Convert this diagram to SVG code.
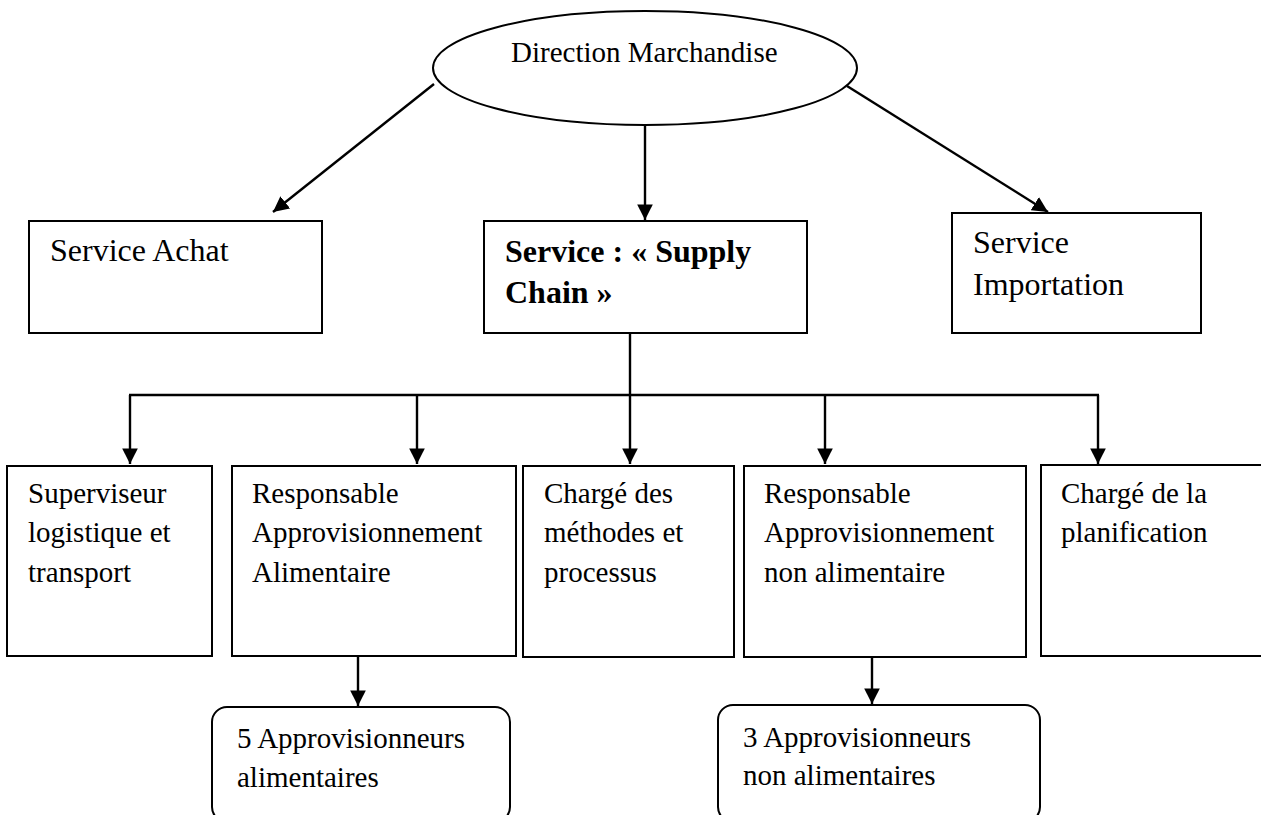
<svg xmlns="http://www.w3.org/2000/svg" width="1261" height="815" viewBox="0 0 1261 815">
  <style>
    .box { fill: #fff; stroke: #000; stroke-width: 2; }
    .lbl { font-family: "Liberation Serif", "Times New Roman", serif; font-size: 29px; fill: #000; }
    .big { font-size: 32px; }
    .bold { font-weight: bold; }
    .wire { fill: none; stroke: #000; stroke-width: 2.4; }
  </style>
  <defs>
    <marker id="head" viewBox="0 0 10 10" refX="10" refY="5" markerWidth="6.5" markerHeight="6.5" markerUnits="strokeWidth" orient="auto">
      <path d="M0,0 L10,5 L0,10 Z" fill="#000"/>
    </marker>
  </defs>
  <rect width="1261" height="815" fill="#fff"/>

  <!-- connectors -->
  <g id="connectors" class="wire">
    <line x1="434" y1="84" x2="273" y2="212" marker-end="url(#head)"/>
    <line x1="645" y1="125" x2="645" y2="220" marker-end="url(#head)"/>
    <line x1="847" y1="86" x2="1048" y2="212" marker-end="url(#head)"/>
    <line x1="630" y1="333" x2="630" y2="395"/>
    <line x1="129" y1="395" x2="1099" y2="395"/>
    <line x1="130" y1="395" x2="130" y2="464" marker-end="url(#head)"/>
    <line x1="417" y1="395" x2="417" y2="464" marker-end="url(#head)"/>
    <line x1="630" y1="395" x2="630" y2="464" marker-end="url(#head)"/>
    <line x1="825" y1="395" x2="825" y2="464" marker-end="url(#head)"/>
    <line x1="1098" y1="395" x2="1098" y2="464" marker-end="url(#head)"/>
    <line x1="358" y1="656" x2="358" y2="706" marker-end="url(#head)"/>
    <line x1="872" y1="657" x2="872" y2="704" marker-end="url(#head)"/>
  </g>

  <!-- top node -->
  <g id="direction">
    <ellipse class="box" cx="645" cy="68" rx="212" ry="57"/>
    <text class="lbl" x="511" y="62">Direction Marchandise</text>
  </g>

  <!-- second level -->
  <g id="service-achat">
    <rect class="box" x="29" y="221" width="293" height="112"/>
    <text class="lbl big" x="50" y="261">Service Achat</text>
  </g>
  <g id="supply-chain">
    <rect class="box" x="484" y="221" width="323" height="112"/>
    <text class="lbl big bold" x="505" y="262">Service : « Supply</text>
    <text class="lbl big bold" x="505" y="303">Chain »</text>
  </g>
  <g id="service-importation">
    <rect class="box" x="952" y="213" width="249" height="120"/>
    <text class="lbl big" x="973" y="253">Service</text>
    <text class="lbl big" x="973" y="295">Importation</text>
  </g>

  <!-- third level -->
  <g id="superviseur">
    <rect class="box" x="7" y="466" width="205" height="190"/>
    <text class="lbl" x="28" y="503">Superviseur</text>
    <text class="lbl" x="28" y="542">logistique et</text>
    <text class="lbl" x="28" y="582">transport</text>
  </g>
  <g id="resp-alimentaire">
    <rect class="box" x="232" y="466" width="284" height="190"/>
    <text class="lbl" x="252" y="503">Responsable</text>
    <text class="lbl" x="252" y="542">Approvisionnement</text>
    <text class="lbl" x="252" y="582">Alimentaire</text>
  </g>
  <g id="charge-methodes">
    <rect class="box" x="523" y="466" width="211" height="191"/>
    <text class="lbl" x="544" y="503">Chargé des</text>
    <text class="lbl" x="544" y="542">méthodes et</text>
    <text class="lbl" x="544" y="582">processus</text>
  </g>
  <g id="resp-non-alimentaire">
    <rect class="box" x="744" y="466" width="282" height="191"/>
    <text class="lbl" x="764" y="503">Responsable</text>
    <text class="lbl" x="764" y="542">Approvisionnement</text>
    <text class="lbl" x="764" y="582">non alimentaire</text>
  </g>
  <g id="charge-planification">
    <rect class="box" x="1041" y="465" width="230" height="191"/>
    <text class="lbl" x="1061" y="503">Chargé de la</text>
    <text class="lbl" x="1061" y="542">planification</text>
  </g>

  <!-- fourth level -->
  <g id="appro-alimentaires">
    <rect class="box" x="212" y="707" width="298" height="115" rx="15" ry="15"/>
    <text class="lbl" x="237" y="748">5 Approvisionneurs</text>
    <text class="lbl" x="237" y="787">alimentaires</text>
  </g>
  <g id="appro-non-alimentaires">
    <rect class="box" x="718" y="705" width="322" height="117" rx="15" ry="15"/>
    <text class="lbl" x="743" y="747">3 Approvisionneurs</text>
    <text class="lbl" x="743" y="785">non alimentaires</text>
  </g>
</svg>
